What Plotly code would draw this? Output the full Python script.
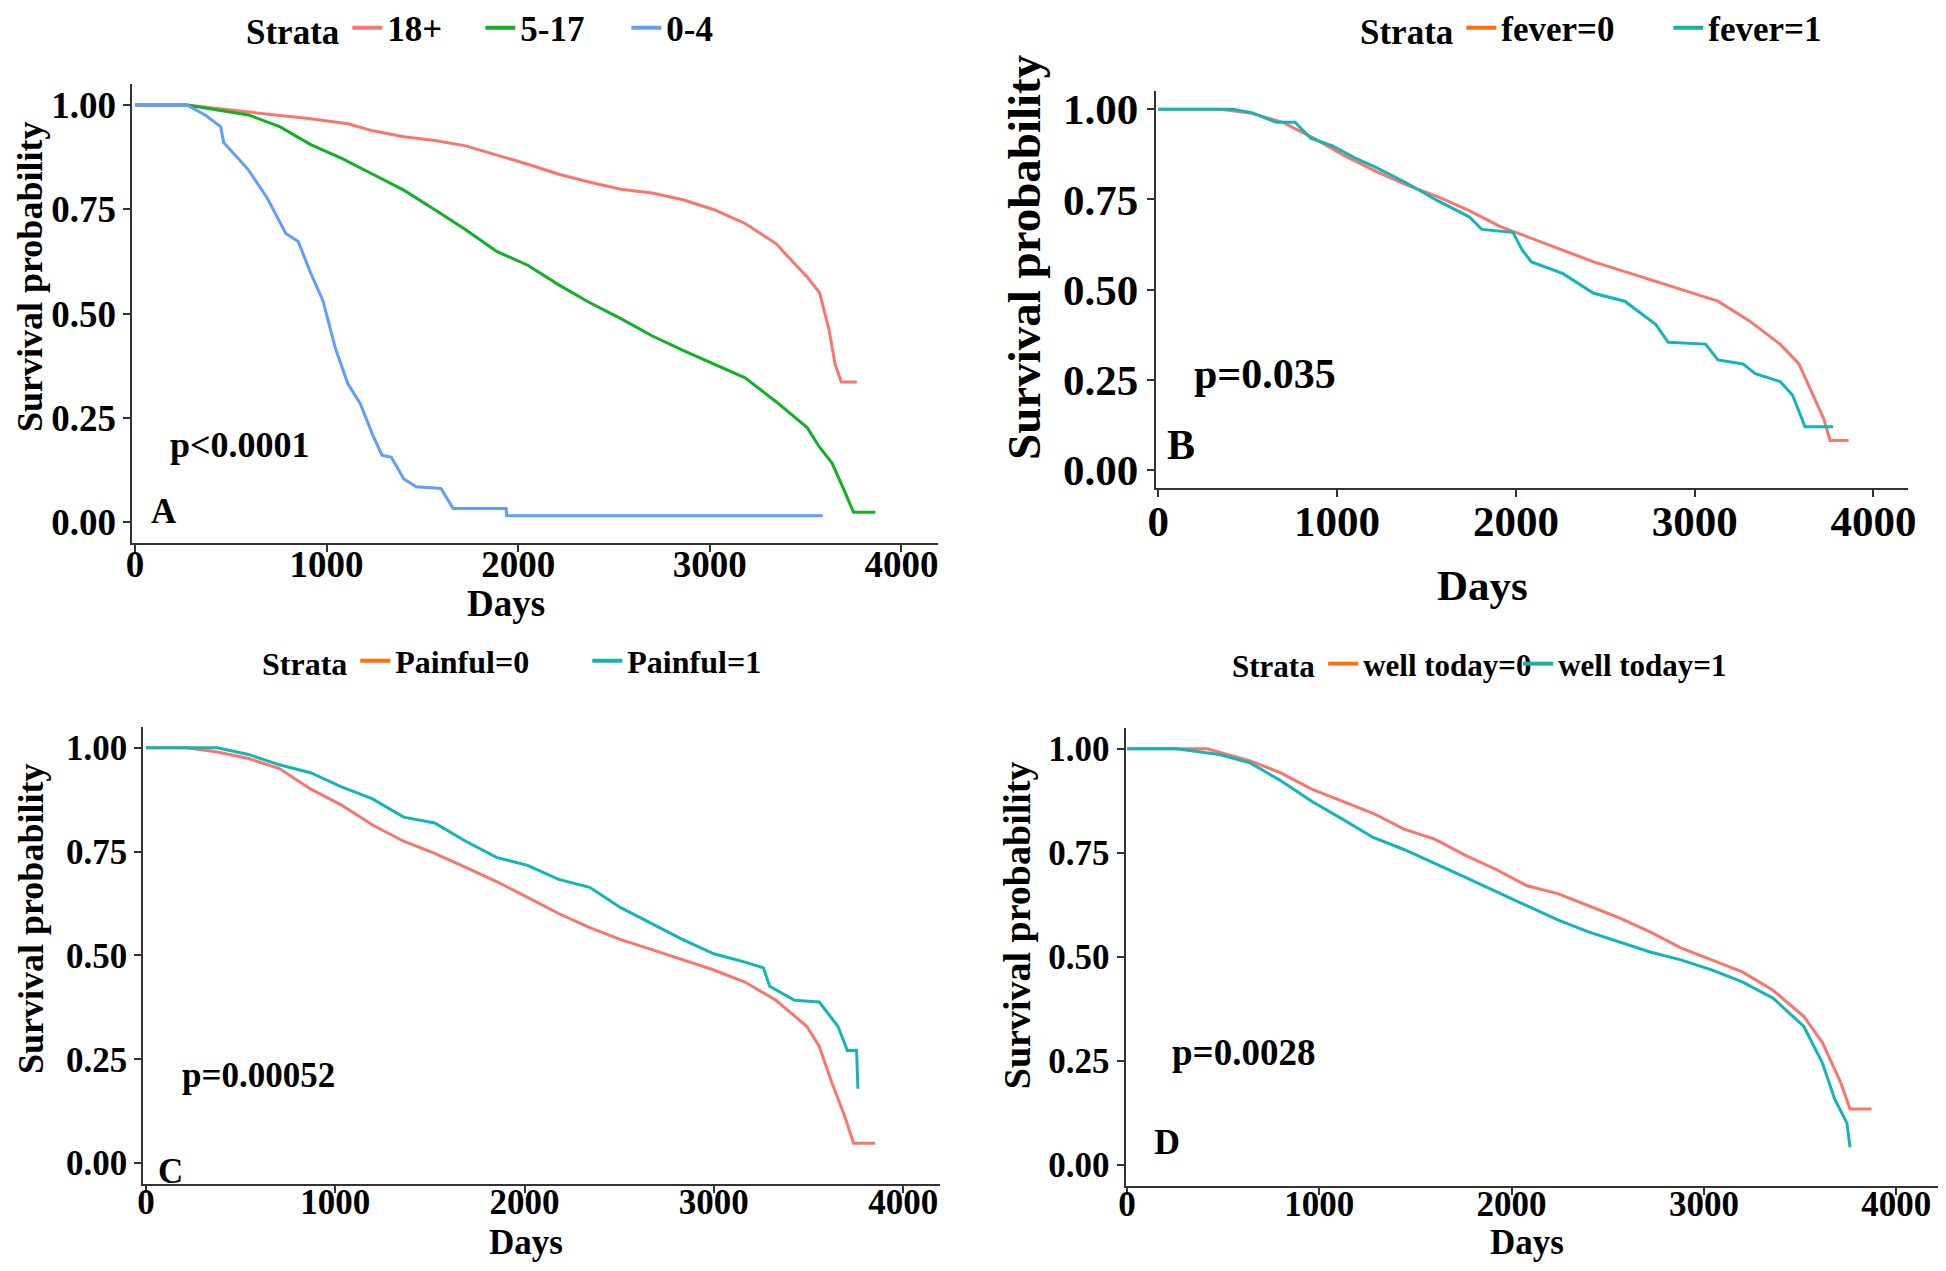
import plotly.graph_objects as go

# ---- data (days, survival probability) ----
a_days_18 = [0, 270, 593, 917, 1111, 1241, 1403, 1565, 1726, 1888, 2050, 2212, 2374, 2536, 2698, 2860, 3022, 3184, 3346, 3411, 3508, 3573, 3621, 3654, 3686, 3767]
a_surv_18 = [1.0, 1.0, 0.983, 0.967, 0.955, 0.938, 0.924, 0.915, 0.902, 0.88, 0.858, 0.834, 0.815, 0.798, 0.789, 0.773, 0.749, 0.716, 0.668, 0.635, 0.588, 0.55, 0.464, 0.379, 0.336, 0.336]
a_days_517 = [0, 270, 593, 755, 917, 1079, 1241, 1403, 1565, 1726, 1888, 2050, 2212, 2374, 2536, 2698, 2860, 3022, 3184, 3346, 3508, 3573, 3638, 3702, 3750, 3864]
a_surv_517 = [1.0, 1.0, 0.976, 0.948, 0.905, 0.872, 0.834, 0.796, 0.749, 0.701, 0.649, 0.616, 0.569, 0.526, 0.488, 0.447, 0.412, 0.379, 0.346, 0.289, 0.227, 0.18, 0.142, 0.076, 0.024, 0.024]
a_days_04 = [0, 270, 366, 447, 463, 593, 690, 787, 852, 917, 981, 1046, 1111, 1176, 1241, 1289, 1338, 1403, 1468, 1597, 1661, 1937, 1940, 3589]
a_surv_04 = [1.0, 1.0, 0.976, 0.948, 0.91, 0.844, 0.777, 0.692, 0.673, 0.597, 0.531, 0.417, 0.332, 0.284, 0.209, 0.161, 0.156, 0.104, 0.085, 0.081, 0.033, 0.033, 0.016, 0.016]

b_days_f0 = [0, 348, 522, 696, 870, 1043, 1217, 1391, 1565, 1739, 1913, 2087, 2261, 2435, 2609, 2783, 2957, 3130, 3304, 3478, 3583, 3652, 3722, 3757, 3861]
b_surv_f0 = [1.0, 1.0, 0.989, 0.964, 0.92, 0.871, 0.828, 0.79, 0.757, 0.719, 0.675, 0.643, 0.61, 0.577, 0.55, 0.523, 0.496, 0.468, 0.414, 0.349, 0.294, 0.218, 0.142, 0.082, 0.082]
b_days_f1 = [0, 417, 522, 661, 765, 852, 974, 1096, 1217, 1391, 1565, 1739, 1809, 1983, 2035, 2087, 2261, 2435, 2609, 2696, 2783, 2852, 3061, 3130, 3270, 3339, 3478, 3548, 3617, 3774]
b_surv_f1 = [1.0, 1.0, 0.991, 0.964, 0.964, 0.92, 0.899, 0.866, 0.839, 0.795, 0.746, 0.702, 0.667, 0.659, 0.61, 0.577, 0.545, 0.49, 0.468, 0.436, 0.403, 0.354, 0.349, 0.305, 0.294, 0.267, 0.245, 0.207, 0.12, 0.12]

c_days_p0 = [0, 213, 377, 541, 705, 869, 1033, 1197, 1361, 1525, 1689, 1852, 2016, 2180, 2344, 2508, 2672, 2836, 3000, 3164, 3328, 3492, 3557, 3623, 3689, 3738, 3852]
c_surv_p0 = [1.0, 1.0, 0.99, 0.974, 0.95, 0.901, 0.862, 0.814, 0.775, 0.746, 0.712, 0.678, 0.64, 0.601, 0.567, 0.538, 0.514, 0.489, 0.465, 0.436, 0.392, 0.329, 0.281, 0.194, 0.116, 0.048, 0.048]
c_days_p1 = [0, 377, 541, 705, 869, 1033, 1197, 1361, 1525, 1689, 1852, 2016, 2180, 2344, 2508, 2672, 2836, 3000, 3164, 3262, 3295, 3426, 3557, 3656, 3705, 3754, 3761]
c_surv_p1 = [1.0, 1.0, 0.984, 0.959, 0.94, 0.906, 0.877, 0.833, 0.819, 0.775, 0.736, 0.717, 0.683, 0.664, 0.615, 0.577, 0.538, 0.504, 0.484, 0.47, 0.426, 0.392, 0.388, 0.329, 0.271, 0.271, 0.179]

d_days_w0 = [0, 416, 640, 800, 960, 1120, 1280, 1440, 1600, 1760, 1920, 2080, 2240, 2400, 2560, 2720, 2880, 3040, 3200, 3360, 3520, 3616, 3712, 3760, 3872]
d_surv_w0 = [1.0, 1.0, 0.971, 0.942, 0.903, 0.874, 0.845, 0.807, 0.783, 0.744, 0.71, 0.671, 0.652, 0.623, 0.594, 0.56, 0.522, 0.493, 0.464, 0.42, 0.357, 0.295, 0.198, 0.135, 0.135]
d_days_w1 = [0, 256, 480, 640, 800, 960, 1120, 1280, 1440, 1600, 1760, 1920, 2080, 2240, 2400, 2560, 2720, 2880, 3040, 3200, 3360, 3520, 3616, 3680, 3744, 3760]
d_surv_w1 = [1.0, 1.0, 0.986, 0.966, 0.923, 0.874, 0.831, 0.787, 0.758, 0.725, 0.691, 0.657, 0.623, 0.589, 0.56, 0.536, 0.512, 0.493, 0.469, 0.44, 0.401, 0.333, 0.246, 0.159, 0.101, 0.043]

x_ticks = [0, 1000, 2000, 3000, 4000]
y_ticks = [0, 0.25, 0.5, 0.75, 1.0]
Y_RANGE = [-0.05, 1.05]

RED = "#F8766D"
GREEN = "#12B024"
BLUE = "#619CFF"
TEAL = "#12B6B8"
KEY_ORANGE = "#FF6F10"
KEY_TEAL = "#1AB29E"
FONT = "Liberation Serif"

# page has an 8px body margin; figure is sized to fit exactly inside the window
W, H, PAD = 1930, 1255, 8
def fx(px):
    return min(1.0, max(0.0, (px - PAD) / W))
def fy(py):
    return min(1.0, max(0.0, 1 - (py - PAD) / H))

fig = go.Figure()

panels = [
    ("", [(a_days_18, a_surv_18, RED), (a_days_517, a_surv_517, GREEN), (a_days_04, a_surv_04, BLUE)],
     [("18+", RED, 88), ("5-17", GREEN, 101), ("0-4", BLUE, 60)]),
    ("2", [(b_days_f0, b_surv_f0, RED), (b_days_f1, b_surv_f1, TEAL)],
     [("fever=0", KEY_ORANGE, 162), ("fever=1", KEY_TEAL, 130)]),
    ("3", [(c_days_p0, c_surv_p0, RED), (c_days_p1, c_surv_p1, TEAL)],
     [("Painful=0", KEY_ORANGE, 187), ("Painful=1", KEY_TEAL, 140)]),
    ("4", [(d_days_w0, d_surv_w0, RED), (d_days_w1, d_surv_w1, TEAL)],
     [("well today=0", KEY_ORANGE, 150), ("well today=1", KEY_TEAL, 180)]),
]

for suf, curves, keys in panels:
    for xs, ys, col in curves:
        fig.add_trace(go.Scatter(x=xs, y=ys, mode="lines", line=dict(color=col, width=3),
                                 showlegend=False, xaxis="x" + suf, yaxis="y" + suf,
                                 hoverinfo="skip"))
    for name, col, lw in keys:
        fig.add_trace(go.Scatter(x=[None], y=[None], mode="lines", line=dict(color=col, width=4),
                                 name=name, legend="legend" + suf, legendwidth=lw,
                                 xaxis="x" + suf, yaxis="y" + suf))

# panel boxes in page pixels: (left, right, top, bottom), x range, tick font size, x label shift
boxes = {
    "": ((132.3, 938.2, 84.1, 543.2), [-14, 4192], 37, -20),
    "2": ((1155.8, 1907.8, 91.3, 488.0), [-14, 4192], 43, -13),
    "3": ((143.3, 939.5, 727.0, 1183.9), [-14, 4192], 35, -21),
    "4": ((1125.5, 1937.5, 727.9, 1186.0), [-8, 4215], 35, -21),
}

layout = dict(width=W, height=H, margin=dict(l=0, r=0, t=0, b=0, autoexpand=False),
              paper_bgcolor="white", plot_bgcolor="white",
              font=dict(family=FONT, color="black", weight="bold"))

for suf, ((l, r, t, b), xr, fs, shift) in boxes.items():
    tf = dict(family=FONT, size=fs, color="black", weight="bold")
    common = dict(ticks="outside", ticklen=7, tickwidth=2, tickcolor="#333", showline=True,
                  linecolor="#333", linewidth=2, showgrid=False, zeroline=False, tickfont=tf,
                  ticklabeloverflow="allow")
    layout["xaxis" + suf] = dict(domain=[fx(l), fx(r)], anchor="y" + suf, range=xr,
                                tickvals=x_ticks, ticklabelstandoff=shift, **common)
    layout["yaxis" + suf] = dict(domain=[fy(b), fy(t)], anchor="x" + suf, range=Y_RANGE,
                                tickvals=y_ticks, tickformat=".2f", **common)

# legends: left x (page px), text centre y (page px), font size
legs = {
    "": (244, 28, 35),
    "2": (1358, 28, 35),
    "3": (260, 661, 32),
    "4": (1230, 664, 31),
}
for suf, (lx, ly, fs) in legs.items():
    lf = dict(family=FONT, size=fs, color="black", weight="bold")
    layout["legend" + suf] = dict(x=fx(lx), y=fy(ly), xanchor="left", yanchor="middle",
                                  orientation="h",
                                  title=dict(text="Strata", side="left", font=lf), font=lf,
                                  itemwidth=30, bgcolor="rgba(0,0,0,0)")

fig.update_layout(**layout)

def note(text, x, y, size, xref="paper", yref="paper", angle=0, xanchor="center"):
    fig.add_annotation(text=text, x=x, y=y, xref=xref, yref=yref, showarrow=False,
                       textangle=angle, xanchor=xanchor, yanchor="middle",
                       font=dict(family=FONT, size=size, color="black", weight="bold"))

# axis titles (page px positions)
note("Survival probability", fx(30), fy(277), 36, angle=-90)
note("Survival probability", fx(1024), fy(257), 47, angle=-90)
note("Survival probability", fx(31), fy(919), 36, angle=-90)
note("Survival probability", fx(1016.5), fy(925.7), 38, angle=-90)
note("Days", fx(506), fy(603), 37)
note("Days", fx(1482), fy(585), 43)
note("Days", fx(526), fy(1242), 35)
note("Days", fx(1527), fy(1242), 35)

# p-values and panel letters (data coordinates)
note("p<0.0001", 170, 0.185, 36, "x", "y", xanchor="left")
note("A", 75, 0.025, 35, "x", "y", xanchor="left")
note("p=0.035", 187, 0.265, 42, "x2", "y2", xanchor="left")
note("B", 37, 0.069, 42, "x2", "y2", xanchor="left")
note("p=0.00052", 180, 0.21, 35, "x3", "y3", xanchor="left")
note("C", 55, -0.02, 35, "x3", "y3", xanchor="left")
note("p=0.0028", 224, 0.27, 37, "x4", "y4", xanchor="left")
note("D", 128, 0.055, 36, "x4", "y4", xanchor="left")

fig.write_html("out.html")
